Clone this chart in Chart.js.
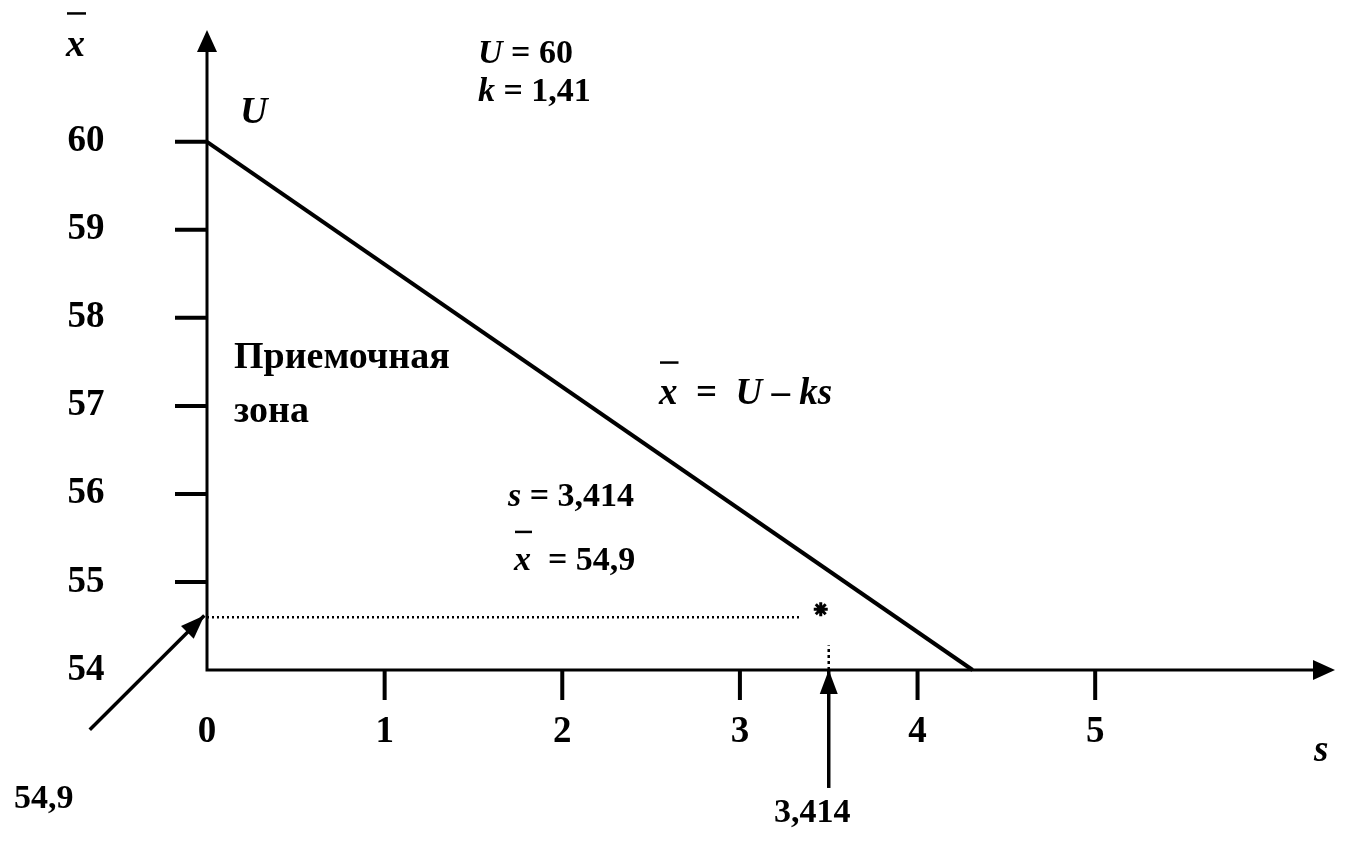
<!DOCTYPE html>
<html>
<head>
<meta charset="utf-8">
<script src="https://cdn.jsdelivr.net/npm/chart.js@4/dist/chart.umd.min.js"></script>
<style>
  html, body { margin: 0; padding: 0; background: #fff; overflow: hidden; }
  canvas { display: block; }
</style>
</head>
<body>
<canvas id="chart" width="1348" height="842"></canvas>
<script>
// --- data ---
const xTicks = [1, 2, 3, 4, 5];
const xTickLabels = ['1', '2', '3', '4', '5'];
const yTicks = [55, 56, 57, 58, 59, 60];
const yTickLabels = ['55', '56', '57', '58', '59', '60'];

// acceptance line  x = U - k s
const lineS = [0, 4.31];
const lineX = [60, 54];

// dotted level and the point found
const levelS = [0, 3.34];
const levelX = [54.6, 54.6];
const starS = [3.455];
const starX = [54.69];
const dropS = [3.5, 3.5];
const dropX = [54, 54.28];

// pointer arrows (tail -> head)
const arrowLeftS = [-0.66, -0.015];
const arrowLeftX = [53.32, 54.62];
const arrowDownS = [3.5, 3.5];
const arrowDownX = [52.66, 54];

const sMax = 6.35;
const xMin = 54;
const xMax = 61.27;

const pts = (a, b) => a.map((v, i) => ({ x: v, y: b[i] }));

const SERIF = '"Liberation Serif", "DejaVu Serif", serif';

function arrowHead(ctx, x1, y1, x2, y2, len, half) {
    const ang = Math.atan2(y2 - y1, x2 - x1);
    ctx.beginPath();
    ctx.moveTo(x2, y2);
    ctx.lineTo(x2 - len * Math.cos(ang) + half * Math.sin(ang), y2 - len * Math.sin(ang) - half * Math.cos(ang));
    ctx.lineTo(x2 - len * Math.cos(ang) - half * Math.sin(ang), y2 - len * Math.sin(ang) + half * Math.cos(ang));
    ctx.closePath();
    ctx.fill();
}

// draws text pieces one after another; piece = [text, italic, overline]
function rich(ctx, x, y, parts, size) {
    let cx = x;
    parts.forEach(p => {
        ctx.font = (p[1] ? 'italic ' : '') + 'bold ' + size + 'px ' + SERIF;
        ctx.fillText(p[0], cx, y);
        const w = ctx.measureText(p[0]).width;
        if (p[2]) {
            ctx.lineWidth = 2.5;
            ctx.beginPath();
            ctx.moveTo(cx + 1, y - size * 1.12);
            ctx.lineTo(cx + w + 1, y - size * 1.12);
            ctx.stroke();
        }
        cx += w;
    });
}

const axesPlugin = {
    id: 'axesPlugin',
    afterDraw(chart) {
        const ctx = chart.ctx;
        const sx = chart.scales.x, sy = chart.scales.y;
        const px = v => sx.getPixelForValue(v);
        const py = v => sy.getPixelForValue(v);
        const x0 = px(0), y0 = py(xMin);
        ctx.save();
        ctx.strokeStyle = '#000';
        ctx.fillStyle = '#000';
        ctx.lineCap = 'butt';

        // axes
        ctx.lineWidth = 3;
        ctx.beginPath();
        ctx.moveTo(x0, y0); ctx.lineTo(x0, py(xMax) + 10);
        ctx.moveTo(x0 - 1.5, y0); ctx.lineTo(px(sMax) - 10, y0);
        ctx.stroke();
        arrowHead(ctx, x0, y0, x0, py(xMax), 22, 10);
        arrowHead(ctx, x0, y0, px(sMax), y0, 22, 10);

        // tick marks
        ctx.lineWidth = 4;
        ctx.beginPath();
        yTicks.forEach(v => { ctx.moveTo(x0 - 32, py(v)); ctx.lineTo(x0, py(v)); });
        xTicks.forEach(v => { ctx.moveTo(px(v), y0); ctx.lineTo(px(v), y0 + 30); });
        ctx.stroke();

        // tick labels
        ctx.font = 'bold 37px ' + SERIF;
        ctx.textBaseline = 'middle';
        ctx.textAlign = 'center';
        yTicks.forEach((v, i) => ctx.fillText(yTickLabels[i], x0 - 121, py(v)));
        ctx.fillText('54', x0 - 121, y0);
        ctx.fillText('0', x0, y0 + 62);
        xTicks.forEach((v, i) => ctx.fillText(xTickLabels[i], px(v), y0 + 62));

        // pointer arrows
        ctx.lineWidth = 3.5;
        [[arrowLeftS, arrowLeftX], [arrowDownS, arrowDownX]].forEach(a => {
            const ax1 = px(a[0][0]), ay1 = py(a[1][0]);
            const ax2 = px(a[0][1]), ay2 = py(a[1][1]);
            ctx.beginPath();
            ctx.moveTo(ax1, ay1); ctx.lineTo(ax2, ay2);
            ctx.stroke();
            arrowHead(ctx, ax1, ay1, ax2, ay2, 24, 9);
        });

        // texts
        ctx.textAlign = 'left';
        ctx.textBaseline = 'alphabetic';
        rich(ctx, 66, 56, [['x', true, true]], 38);
        rich(ctx, 240, 123, [['U', true]], 38);
        rich(ctx, 478, 63, [['U', true], [' = 60', false]], 34);
        rich(ctx, 478, 101, [['k', true], [' = 1,41', false]], 34);
        rich(ctx, 234, 368, [['Приемочная', false]], 38);
        rich(ctx, 234, 422, [['зона', false]], 38);
        rich(ctx, 659, 404, [['x', true, true], ['  =  ', false], ['U', true], [' \u2013 ', false], ['ks', true]], 37);
        rich(ctx, 508, 506, [['s', true], [' = 3,414', false]], 34);
        rich(ctx, 514, 570, [['x', true, true], ['  = 54,9', false]], 34);
        rich(ctx, 14, 808, [['54,9', false]], 34);
        rich(ctx, 774, 822, [['3,414', false]], 34);
        rich(ctx, 1314, 761, [['s', true]], 37);
        ctx.restore();
    }
};

new Chart(document.getElementById('chart'), {
    type: 'scatter',
    data: {
        datasets: [
            {
                data: pts(lineS, lineX),
                showLine: true,
                borderColor: '#000',
                borderWidth: 4,
                pointRadius: 0,
                clip: false
            },
            {
                data: pts(levelS, levelX),
                showLine: true,
                borderColor: '#000',
                borderWidth: 2.5,
                borderDash: [2, 3],
                pointRadius: 0,
                clip: false
            },
            {
                data: pts(dropS, dropX),
                showLine: true,
                borderColor: '#000',
                borderWidth: 2.5,
                borderDash: [3, 3],
                pointRadius: 0,
                clip: false
            },
            {
                data: pts(starS, starX),
                pointStyle: 'star',
                pointRadius: 7,
                borderWidth: 3,
                borderColor: '#000',
                backgroundColor: '#000',
                clip: false
            }
        ]
    },
    options: {
        responsive: false,
        animation: false,
        events: [],
        layout: { padding: { left: 207, right: 13, top: 30, bottom: 172 } },
        plugins: { legend: { display: false }, tooltip: { enabled: false } },
        scales: {
            x: { type: 'linear', min: 0, max: sMax, display: false },
            y: { type: 'linear', min: xMin, max: xMax, display: false }
        }
    },
    plugins: [axesPlugin]
});
</script>
</body>
</html>
